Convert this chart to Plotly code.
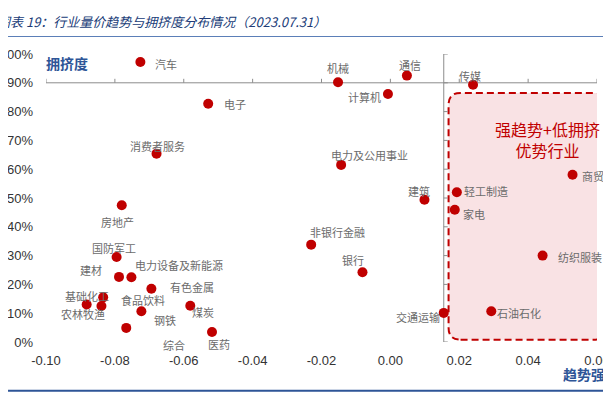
import plotly.graph_objects as go

# ---------------- data ----------------
industries = ["汽车", "电子", "消费者服务", "房地产", "机械", "通信", "计算机", "传媒",
              "电力及公用事业", "商贸零售", "轻工制造", "家电", "建筑", "非银行金融", "银行",
              "纺织服装", "石油石化", "交通运输", "国防军工", "建材", "电力设备及新能源",
              "有色金属", "基础化工", "农林牧渔", "食品饮料", "钢铁", "煤炭", "综合", "医药"]
trend = [-0.0726, -0.0529, -0.0679, -0.0780, -0.0152, 0.0048, -0.0007, 0.0240,
         -0.0143, 0.0529, 0.0193, 0.0187, 0.0099, -0.0230, -0.0081,
         0.0442, 0.0293, 0.0155, -0.0795, -0.0788, -0.0752,
         -0.0694, -0.0834, -0.0882, -0.0839, -0.0723, -0.0581, -0.0767, -0.0518]
crowding = [0.972, 0.827, 0.654, 0.475, 0.902, 0.925, 0.861, 0.893,
            0.615, 0.581, 0.520, 0.459, 0.494, 0.338, 0.242,
            0.300, 0.107, 0.101, 0.295, 0.226, 0.225,
            0.185, 0.155, 0.130, 0.125, 0.107, 0.126, 0.049, 0.035]
x_ticks = [-0.10, -0.08, -0.06, -0.04, -0.02, 0.00, 0.02, 0.04, 0.06]
y_ticks = [0, 0.1, 0.2, 0.3, 0.4, 0.5, 0.6, 0.7, 0.8, 0.9, 1.0]
title_text = "图表 19：行业量价趋势与拥挤度分布情况（2023.07.31）"
source_text = "资料来源：wind，国盛证券研究所"
box_text = "强趋势+低拥挤<br>优势行业"
# axis crossing values
x_cross = 0.0155
y_cross = 0.90
# highlighted region (data units)
box_x = [0.0169, 0.0626]
box_y = [0.008, 0.865]

# label offsets in pixels (dx right, dy down)
label_offsets = {
    "汽车": (25.6, 1.7), "电子": (26.3, 0.3), "消费者服务": (1, -7.4), "房地产": (-3.8, 17),
    "机械": (0, -14.3), "通信": (2.8, -10.4), "计算机": (-23.7, 3.3), "传媒": (-3.5, -8.4),
    "电力及公用事业": (28.8, -9.7), "商贸零售": (31.3, 1), "轻工制造": (29.5, -1.6),
    "家电": (19, 4.3), "建筑": (-5, -8.4), "非银行金融": (26.8, -12.4), "银行": (-9.5, -12),
    "纺织服装": (37.1, 1.6), "石油石化": (28.2, 2), "交通运输": (-26.2, 4.3),
    "国防军工": (-2.3, -9), "建材": (-27.8, -7.3), "电力设备及新能源": (47.3, -12),
    "有色金属": (40.5, -1.7), "基础化工": (-16.2, -1), "农林牧渔": (-3.7, 9),
    "食品饮料": (41.5, -6.3), "钢铁": (23.2, 8.4), "煤炭": (12.8, 6.3),
    "综合": (48, 16.7), "医药": (7, 12),
}

# ---------------- layout geometry ----------------
W, H = 611, 395
L, R, T, B = 38, 21.7, 46, 61
PW = W - L - R
PH = H - T - B


def px_x(px):
    return (px - L) / PW


def px_y(py):
    return (H - B - py) / PH


CJK = "Noto Sans CJK SC"
RED = "#c00000"
BLUE = "#2e5597"

fig = go.Figure()
fig.add_trace(go.Scatter(
    x=trend, y=crowding, mode="markers", text=industries,
    marker=dict(color=RED, size=10, line=dict(width=0)),
    hoverinfo="text", showlegend=False,
))

shapes = []
# rounded dashed box
x0, x1 = box_x
y0, y1 = box_y
rx = 12 / (PW / 0.16)
ry = 12 / (PH / 1.0)
path = (f"M {x0+rx},{y0} L {x1-rx},{y0} Q {x1},{y0} {x1},{y0+ry} "
        f"L {x1},{y1-ry} Q {x1},{y1} {x1-rx},{y1} L {x0+rx},{y1} "
        f"Q {x0},{y1} {x0},{y1-ry} L {x0},{y0+ry} Q {x0},{y0} {x0+rx},{y0} Z")
shapes.append(dict(type="path", path=path, xref="x", yref="y",
                   fillcolor="#f9e2e4", line=dict(color=RED, width=2, dash="7px,4px"),
                   layer="below"))
# crossing axes
AX = "#8c8c8c"
shapes.append(dict(type="line", xref="x", yref="y", x0=x_ticks[0], x1=x_ticks[-1],
                   y0=y_cross, y1=y_cross, line=dict(color=AX, width=1), layer="below"))
shapes.append(dict(type="line", xref="x", yref="y", x0=x_cross, x1=x_cross,
                   y0=y_ticks[0], y1=y_ticks[-1], line=dict(color=AX, width=1), layer="below"))
for t in x_ticks:
    shapes.append(dict(type="line", xref="x", yref="y", ysizemode="pixel", yanchor=y_cross,
                       x0=t, x1=t, y0=0, y1=4, line=dict(color=AX, width=1), layer="below"))
for t in y_ticks:
    shapes.append(dict(type="line", xref="x", yref="y", xsizemode="pixel", xanchor=x_cross,
                       y0=t, y1=t, x0=0, x1=4, line=dict(color=AX, width=1), layer="below"))
# header / footer rules
shapes.append(dict(type="line", xref="paper", yref="paper", x0=px_x(0), x1=px_x(W),
                   y0=px_y(28.5), y1=px_y(28.5), line=dict(color="#5b7fb8", width=1)))
shapes.append(dict(type="line", xref="paper", yref="paper", x0=px_x(0), x1=px_x(W),
                   y0=px_y(382.8), y1=px_y(382.8), line=dict(color=BLUE, width=2)))

annotations = []
for name, xv, yv in zip(industries, trend, crowding):
    dx, dy = label_offsets[name]
    annotations.append(dict(x=xv, y=yv, xref="x", yref="y", text=name, showarrow=False,
                            xshift=dx, yshift=-dy, xanchor="center", yanchor="middle",
                            font=dict(family=CJK, size=11, color="#6b6b6b")))
annotations.append(dict(x=px_x(-13), y=px_y(13.5), xref="paper", yref="paper",
                        text=title_text, showarrow=False, xanchor="left", yanchor="middle",
                        font=dict(family=CJK, size=13, color="#203c78", style="italic")))
annotations.append(dict(x=px_x(-12), y=px_y(392), xref="paper", yref="paper",
                        text=source_text, showarrow=False, xanchor="left", yanchor="middle",
                        font=dict(family=CJK, size=12, color=BLUE, style="italic")))
annotations.append(dict(x=px_x(59), y=px_y(55), xref="paper", yref="paper",
                        text="<b>拥挤度</b>", showarrow=False, xanchor="center", yanchor="middle",
                        font=dict(family=CJK, size=14, color=BLUE)))
annotations.append(dict(x=px_x(583), y=px_y(366), xref="paper", yref="paper",
                        text="<b>趋势强度</b>", showarrow=False, xanchor="center", yanchor="middle",
                        font=dict(family=CJK, size=14, color=BLUE)))
annotations.append(dict(x=px_x(540), y=px_y(131.7), xref="paper", yref="paper",
                        text=box_text, showarrow=False, xanchor="center", yanchor="middle",
                        font=dict(family=CJK, size=16, color=RED)))

fig.update_layout(
    width=W, height=H,
    margin=dict(l=L, r=R, t=T, b=B, pad=0, autoexpand=False),
    paper_bgcolor="white", plot_bgcolor="white",
    showlegend=False,
    shapes=shapes, annotations=annotations,
    xaxis=dict(range=[x_ticks[0], x_ticks[-1]], tickvals=x_ticks,
               ticktext=[f"{v:.2f}" for v in x_ticks], automargin=False,
               showgrid=False, zeroline=False, showline=False, ticks="",
               ticklabelstandoff=9,
               tickfont=dict(family="Liberation Sans", size=13, color="#333333")),
    yaxis=dict(range=[y_ticks[0], y_ticks[-1]], tickvals=y_ticks,
               ticktext=[f"{int(round(v*100))}%" for v in y_ticks], automargin=False,
               showgrid=False, zeroline=False, showline=False, ticks="",
               ticklabelstandoff=12,
               tickfont=dict(family="Liberation Sans", size=13, color="#333333")),
)

fig.write_html("out.html")
